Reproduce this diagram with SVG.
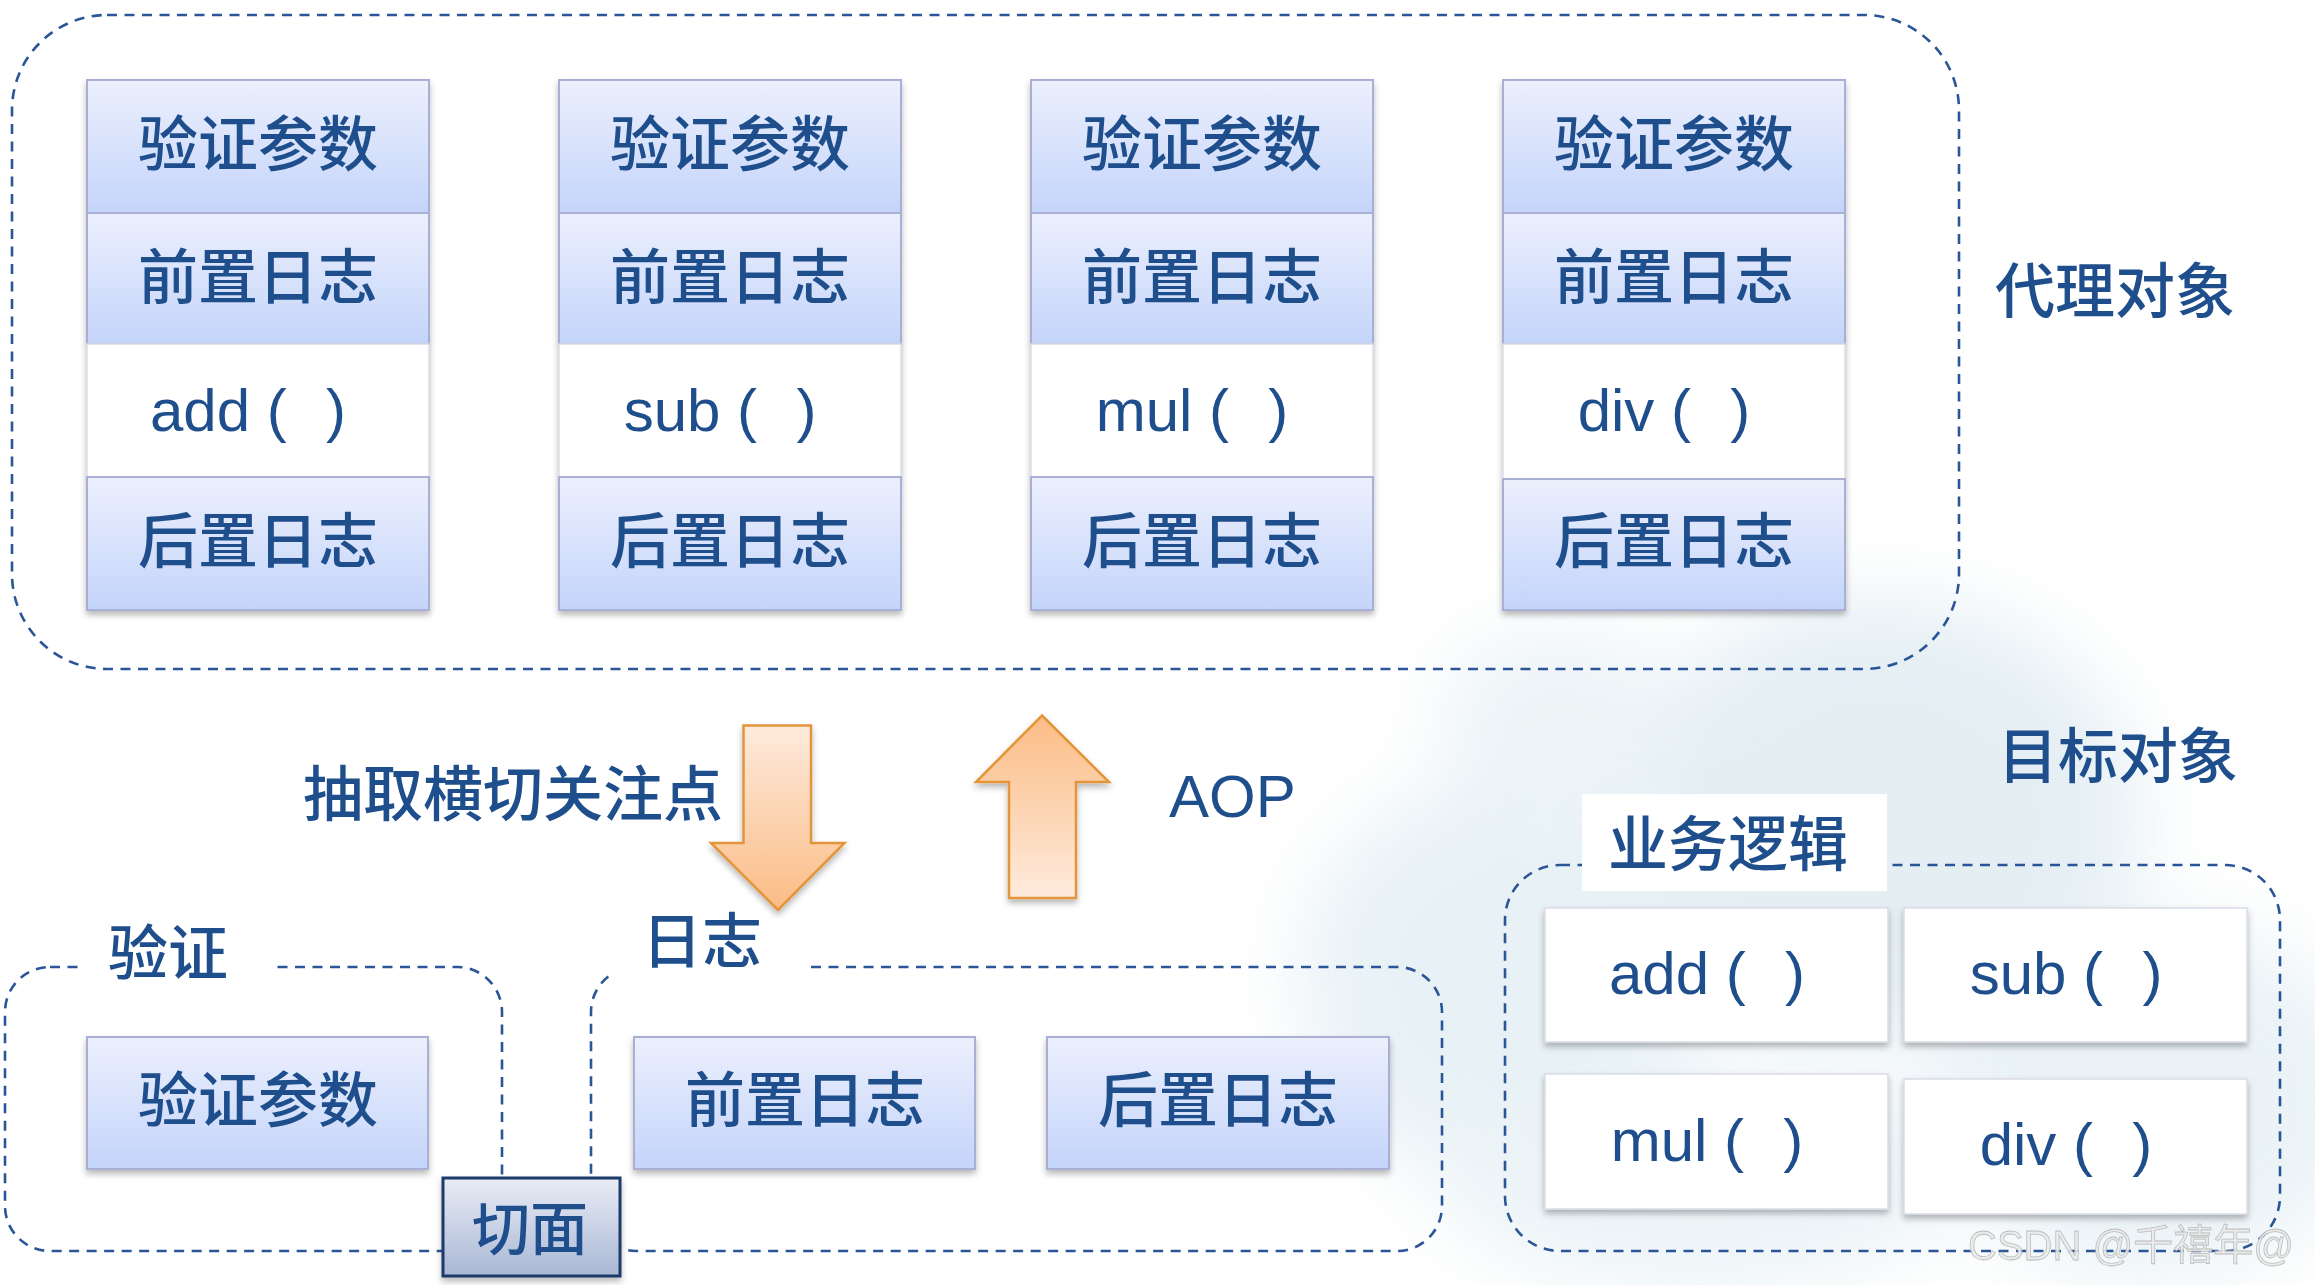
<svg xmlns="http://www.w3.org/2000/svg" width="2315" height="1285" viewBox="0 0 2315 1285">
<defs>
<style>
.cj{font-family:"Noto Sans CJK SC","Noto Sans",sans-serif;font-size:60px;font-weight:500;fill:#1F4E8D;text-anchor:middle}
.lt{font-family:"Liberation Sans",Arial,sans-serif;font-size:60px;fill:#1F4E8D;text-anchor:middle;white-space:pre}
.blue{fill:url(#boxGrad);stroke:#A9AFD5;stroke-width:2}
.white{fill:#FFFFFF;stroke:#DADCE6;stroke-width:1.5}
.dash{fill:none;stroke:#2A5697;stroke-width:2.6;stroke-dasharray:10 7.5}
.lbl{fill:#FFFFFF}
.arrow{stroke:#E3953A;stroke-width:2.5;stroke-linejoin:miter}
</style>
<linearGradient id="boxGrad" x1="0" y1="0" x2="0" y2="1">
<stop offset="0" stop-color="#ECF0FD"/>
<stop offset="1" stop-color="#C4D4FA"/>
</linearGradient>
<linearGradient id="cutGrad" x1="0" y1="0" x2="0" y2="1">
<stop offset="0" stop-color="#E9ECF5"/>
<stop offset="1" stop-color="#A9B7D5"/>
</linearGradient>
<linearGradient id="downGrad" x1="0" y1="0" x2="0" y2="1">
<stop offset="0" stop-color="#FEEBDD"/>
<stop offset="1" stop-color="#FBBC85"/>
</linearGradient>
<linearGradient id="upGrad" x1="0" y1="0" x2="0" y2="1">
<stop offset="0" stop-color="#FBBC85"/>
<stop offset="1" stop-color="#FEEBDD"/>
</linearGradient>
<filter id="shadow" x="-10%" y="-10%" width="120%" height="130%">
<feDropShadow dx="0" dy="4" stdDeviation="3" flood-color="#000" flood-opacity="0.28"/>
</filter>
<filter id="blur" x="-50%" y="-50%" width="200%" height="200%">
<feGaussianBlur stdDeviation="40"/>
</filter>
</defs>

<rect x="0" y="0" width="2315" height="1285" fill="#FFFFFF"/>

<g id="background-decoration" filter="url(#blur)" opacity="0.55">
<ellipse cx="1880" cy="820" rx="260" ry="220" fill="#CFE1EA"/>
<ellipse cx="1500" cy="980" rx="200" ry="200" fill="#D6E6EE"/>
<ellipse cx="2150" cy="1100" rx="220" ry="180" fill="#D9E8EF"/>
<ellipse cx="1700" cy="1180" rx="260" ry="110" fill="#DCEAF0"/>
<ellipse cx="1560" cy="720" rx="120" ry="90" fill="#DDEAF0"/>
</g>

<g id="connectors">
<rect class="dash" x="12" y="15" width="1947" height="654" rx="95" ry="95"/>
<rect class="dash" x="5" y="967" width="497" height="284" rx="45" ry="45"/>
<rect class="dash" x="591" y="967" width="851" height="284" rx="45" ry="45"/>
<rect class="dash" x="1505" y="865" width="775" height="386" rx="55" ry="55"/>
</g>

<g id="proxy-add" filter="url(#shadow)">
<rect class="blue" x="87" y="80" width="342" height="133"/>
<rect class="blue" x="87" y="213" width="342" height="131"/>
<rect class="white" x="87" y="344" width="342" height="133"/>
<rect class="blue" x="87" y="477" width="342" height="133"/>
</g>
<g id="proxy-add-text">
<text class="cj" x="258" y="166">验证参数</text>
<text class="cj" x="258" y="299">前置日志</text>
<text class="lt" x="248" y="431" xml:space="preserve">add (  <tspan dx="6">)</tspan></text>
<text class="cj" x="258" y="563">后置日志</text>
</g>

<g id="proxy-sub" filter="url(#shadow)">
<rect class="blue" x="559" y="80" width="342" height="133"/>
<rect class="blue" x="559" y="213" width="342" height="131"/>
<rect class="white" x="559" y="344" width="342" height="133"/>
<rect class="blue" x="559" y="477" width="342" height="133"/>
</g>
<g id="proxy-sub-text">
<text class="cj" x="730" y="166">验证参数</text>
<text class="cj" x="730" y="299">前置日志</text>
<text class="lt" x="720" y="431" xml:space="preserve">sub (  <tspan dx="6">)</tspan></text>
<text class="cj" x="730" y="563">后置日志</text>
</g>

<g id="proxy-mul" filter="url(#shadow)">
<rect class="blue" x="1031" y="80" width="342" height="133"/>
<rect class="blue" x="1031" y="213" width="342" height="131"/>
<rect class="white" x="1031" y="344" width="342" height="133"/>
<rect class="blue" x="1031" y="477" width="342" height="133"/>
</g>
<g id="proxy-mul-text">
<text class="cj" x="1202" y="166">验证参数</text>
<text class="cj" x="1202" y="299">前置日志</text>
<text class="lt" x="1192" y="431" xml:space="preserve">mul (  <tspan dx="6">)</tspan></text>
<text class="cj" x="1202" y="563">后置日志</text>
</g>

<g id="proxy-div" filter="url(#shadow)">
<rect class="blue" x="1503" y="80" width="342" height="133"/>
<rect class="blue" x="1503" y="213" width="342" height="131"/>
<rect class="white" x="1503" y="344" width="342" height="135"/>
<rect class="blue" x="1503" y="479" width="342" height="131"/>
</g>
<g id="proxy-div-text">
<text class="cj" x="1674" y="166">验证参数</text>
<text class="cj" x="1674" y="299">前置日志</text>
<text class="lt" x="1664" y="431" xml:space="preserve">div (  <tspan dx="6">)</tspan></text>
<text class="cj" x="1674" y="563">后置日志</text>
</g>

<g id="label-proxy">
<text class="cj" x="2115" y="313">代理对象</text>
</g>
<g id="label-target">
<text class="cj" x="2118" y="778">目标对象</text>
</g>
<g id="label-extract">
<text class="cj" x="513" y="816">抽取横切关注点</text>
</g>
<g id="label-aop">
<text class="lt" x="1169" y="817" style="text-anchor:start">AOP</text>
</g>

<g id="group-validate-label">
<rect class="lbl" x="84" y="906" width="191" height="94"/>
<text class="cj" x="168" y="975">验证</text>
</g>
<g id="validate-param" filter="url(#shadow)">
<rect class="blue" x="87" y="1037" width="341" height="132"/>
</g>
<text class="cj" x="258" y="1122">验证参数</text>

<g id="group-log-label">
<rect class="lbl" x="613" y="890" width="191" height="104"/>
<text class="cj" x="702" y="963">日志</text>
</g>
<g id="log-before" filter="url(#shadow)">
<rect class="blue" x="634" y="1037" width="341" height="132"/>
</g>
<text class="cj" x="805" y="1122">前置日志</text>
<g id="log-after" filter="url(#shadow)">
<rect class="blue" x="1047" y="1037" width="342" height="132"/>
</g>
<text class="cj" x="1218" y="1122">后置日志</text>

<g id="aspect">
<rect x="443" y="1178" width="177" height="98" fill="url(#cutGrad)" stroke="#1F3A6A" stroke-width="3" filter="url(#shadow)"/>
<text class="cj" x="530" y="1250" style="font-size:58px">切面</text>
</g>

<g id="group-business-label">
<rect class="lbl" x="1582" y="794" width="305" height="97"/>
<text class="cj" x="1728" y="866">业务逻辑</text>
</g>
<g id="target-add">
<rect class="white" x="1545" y="908" width="343" height="134" filter="url(#shadow)"/>
<text class="lt" x="1707" y="994" xml:space="preserve">add (  <tspan dx="6">)</tspan></text>
</g>
<g id="target-sub">
<rect class="white" x="1904" y="908" width="343" height="134" filter="url(#shadow)"/>
<text class="lt" x="2066" y="994" xml:space="preserve">sub (  <tspan dx="6">)</tspan></text>
</g>
<g id="target-mul">
<rect class="white" x="1545" y="1074" width="343" height="135" filter="url(#shadow)"/>
<text class="lt" x="1707" y="1161" xml:space="preserve">mul (  <tspan dx="6">)</tspan></text>
</g>
<g id="target-div">
<rect class="white" x="1904" y="1079" width="343" height="135" filter="url(#shadow)"/>
<text class="lt" x="2066" y="1165" xml:space="preserve">div (  <tspan dx="6">)</tspan></text>
</g>

<g id="arrows">
<polygon id="arrow-down" class="arrow" fill="url(#downGrad)" filter="url(#shadow)" points="743.5,725.5 811,725.5 811,843 844.5,843 778,910 711,843 743.5,843"/>
<polygon id="arrow-up" class="arrow" fill="url(#upGrad)" filter="url(#shadow)" points="1042,715.5 1109,782 1076,782 1076,898 1009,898 1009,782 976,782"/>
</g>

<text x="1968" y="1260" font-family="Liberation Sans, 'Noto Sans CJK SC', sans-serif" font-size="42" fill="#EAEAEA" stroke="#B5B5B5" stroke-width="0.8" opacity="0.9" textLength="326" lengthAdjust="spacingAndGlyphs">CSDN @千禧年@</text>
</svg>
